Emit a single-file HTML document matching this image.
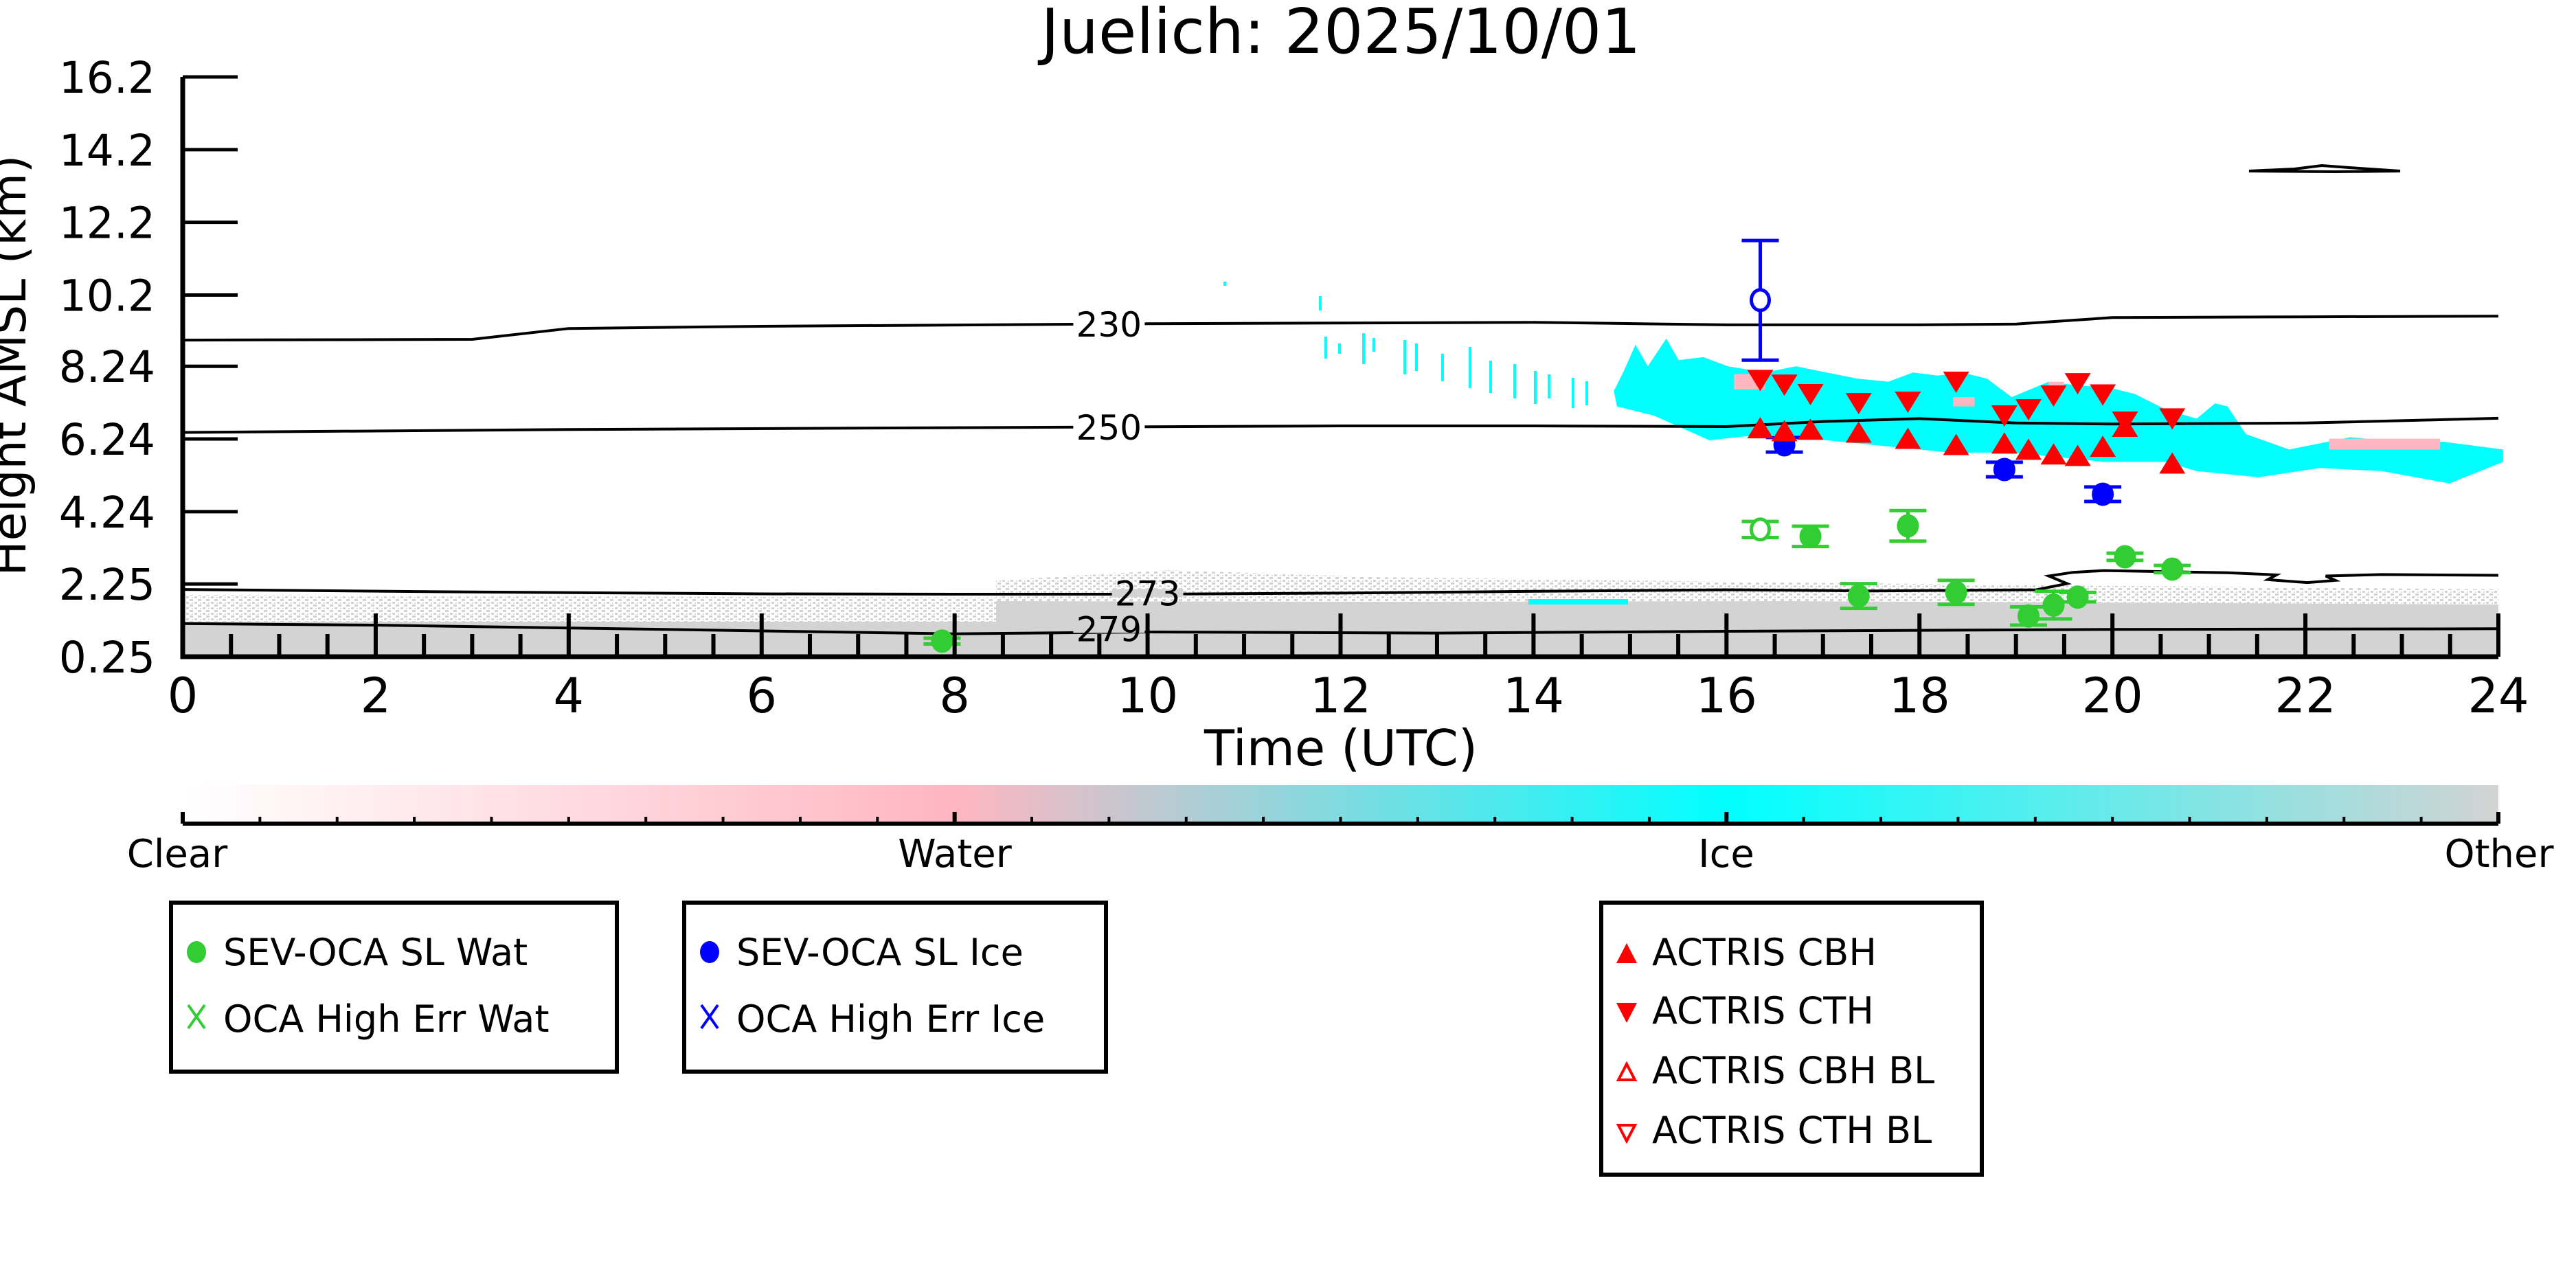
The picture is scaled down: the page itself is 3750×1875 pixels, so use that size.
<!DOCTYPE html>
<html><head><meta charset="utf-8"><style>
html,body{margin:0;padding:0;background:#fff;}
svg{display:block;font-family:"DejaVu Sans","Liberation Sans",sans-serif;}
</style></head><body>
<svg id="chart" width="3750" height="1875" viewBox="0 0 3750 1875" xmlns="http://www.w3.org/2000/svg">
<defs>
<pattern id="speck" width="12" height="8" patternUnits="userSpaceOnUse">
<rect x="0" y="0" width="5" height="3" fill="#d3d3d3"/><rect x="7" y="4" width="4" height="3" fill="#d3d3d3"/><rect x="3" y="5" width="2" height="2" fill="#dcdcdc"/>
</pattern>
<linearGradient id="cbar" x1="0" x2="1" y1="0" y2="0">
<stop offset="0" stop-color="#ffffff"/><stop offset="0.3333" stop-color="#ffb6c1"/><stop offset="0.6667" stop-color="#00ffff"/><stop offset="1" stop-color="#d3d3d3"/>
</linearGradient>
</defs>
<text x="1952" y="77" font-size="90" text-anchor="middle">Juelich: 2025/10/01</text>
<g id="plot"></g>
<g id="axes"></g>
<text x="1952" y="1114" font-size="72" text-anchor="middle">Time (UTC)</text>
<text transform="translate(37,532) rotate(-90)" font-size="68" text-anchor="middle">Height AMSL (km)</text>
<g>
<rect x="266" y="1143" width="3371" height="55" fill="url(#cbar)"/>
<g id="cbticks"></g>
<text x="258" y="1262" font-size="56" text-anchor="middle">Clear</text>
<text x="1390" y="1262" font-size="56" text-anchor="middle">Water</text>
<text x="2513" y="1262" font-size="56" text-anchor="middle">Ice</text>
<text x="3638" y="1262" font-size="56" text-anchor="middle">Other</text>
</g>
<g>
<rect x="249" y="1314" width="649" height="246" fill="#fff" stroke="#000" stroke-width="6"/>
<ellipse cx="286" cy="1386" rx="14" ry="16" fill="#32cd32"/>
<text x="325" y="1405" font-size="54">SEV-OCA SL Wat</text>
<path d="M274 1463 L298 1497 M298 1463 L274 1497" stroke="#32cd32" stroke-width="4"/>
<text x="325" y="1502" font-size="54">OCA High Err Wat</text>
</g>
<g>
<rect x="996" y="1314" width="614" height="246" fill="#fff" stroke="#000" stroke-width="6"/>
<ellipse cx="1033" cy="1386" rx="14" ry="16" fill="#0000ff"/>
<text x="1072" y="1405" font-size="54">SEV-OCA SL Ice</text>
<path d="M1021 1463 L1045 1497 M1045 1463 L1021 1497" stroke="#0000ff" stroke-width="4"/>
<text x="1072" y="1502" font-size="54">OCA High Err Ice</text>
</g>
<g>
<rect x="2331" y="1314" width="554" height="396" fill="#fff" stroke="#000" stroke-width="6"/>
<path d="M2353 1402 L2368 1373 L2383 1402 Z" fill="#ff0000"/>
<text x="2405" y="1405" font-size="54">ACTRIS CBH</text>
<path d="M2353 1460 L2383 1460 L2368 1489 Z" fill="#ff0000"/>
<text x="2405" y="1490" font-size="54">ACTRIS CTH</text>
<path d="M2356 1572 L2368 1549 L2380 1572 Z" fill="none" stroke="#ff0000" stroke-width="4"/>
<text x="2405" y="1577" font-size="54">ACTRIS CBH BL</text>
<path d="M2356 1638 L2380 1638 L2368 1661 Z" fill="none" stroke="#ff0000" stroke-width="4"/>
<text x="2405" y="1664" font-size="54">ACTRIS CTH BL</text>
</g>
</svg>
<script>
const NS="http://www.w3.org/2000/svg";
// ---- data ----
const yTickLabels=["0.25","2.25","4.24","6.24","8.24","10.2","12.2","14.2","16.2"];
const xTickLabels=["0","2","4","6","8","10","12","14","16","18","20","22","24"];
const watTimes=[7.87,16.87,17.88,17.37,18.38,19.13,19.39,19.64,20.13,20.62];
const watHeights=[0.68,3.56,3.85,1.92,2.02,1.37,1.67,1.89,3.00,2.66];
const watErr=[0.08,0.28,0.42,0.34,0.33,0.25,0.38,0.13,0.10,0.10];
const watOpenTimes=[16.35];
const watOpenHeights=[3.75];
const watOpenErr=[0.22];
const iceTimes=[16.60,18.88,19.90];
const iceHeights=[6.08,5.40,4.72];
const iceErr=[0.2,0.2,0.2];
const iceOpenTimes=[16.35];
const iceOpenHeights=[10.06];
const iceOpenErrLow=[1.65];
const iceOpenErrHigh=[1.64];
const actrisTimes=[16.35,16.60,16.87,17.37,17.88,18.38,18.88,19.13,19.39,19.64,19.90,20.13,20.62];
const cthHeights=[7.86,7.73,7.47,7.22,7.26,7.81,6.88,7.05,7.43,7.77,7.46,6.71,6.80];
const cbhHeights=[6.54,6.46,6.50,6.42,6.25,6.08,6.12,5.95,5.82,5.78,6.03,6.58,5.57];
const c230T=[0,3.0,4.0,6,10,14,16,18,19,20,22,24];
const c230H=[8.96,8.98,9.28,9.34,9.41,9.45,9.38,9.38,9.40,9.58,9.60,9.62];
const c250T=[0,4,8,12,14,16,17,18,19,20,22,24];
const c250H=[6.42,6.50,6.55,6.60,6.60,6.58,6.72,6.80,6.68,6.65,6.68,6.81];
const c273T=[0,3,6,8,10,12,14,16,17.5,19.21,19.53,19.34,19.59,19.91,21.19,21.70,21.61,22.02,22.31,22.21,22.79,24];
const c273H=[2.10,2.03,1.98,1.97,1.97,2.00,2.05,2.09,2.06,2.09,2.26,2.47,2.57,2.62,2.56,2.50,2.37,2.29,2.35,2.47,2.51,2.49];
const c279T=[0,2,5,8,10,13,16,20,24];
const c279H=[1.16,1.12,1.00,0.88,0.93,0.90,0.95,1.00,1.02];
const contourLabels=["230","250","273","279"];
const contourLabelT=[9.6,9.6,10.0,9.6];
const contourLabelH=[9.40,6.56,2.00,1.02];
// ---- scales ----
const X=t=>266+t*(3371/24);
const Y=h=>956-(h-0.25)*(844/15.95);
const plot=document.getElementById('plot');
const axes=document.getElementById('axes');
function mk(tag,attrs,parent){const e=document.createElementNS(NS,tag);for(const k in attrs)e.setAttribute(k,attrs[k]);parent.appendChild(e);return e;}

let g;
g=mk('path',{d:`M266 866 L1450 870 L1450 956 L266 956 Z`,fill:'url(#speck)'},plot);


g=mk('rect',{x:266,y:905,width:1184,height:51,fill:'#d3d3d3'},plot);


g=mk('path',{d:`M1450 845 L1700 830 L2000 840 L2600 848 L3000 852 L3637 858 L3637 956 L1450 956 Z`,fill:'url(#speck)'},plot);


g=mk('path',{d:`M1450 875 L2000 876 L2600 875 L3637 880 L3637 956 L1450 956 Z`,fill:'#d3d3d3'},plot);


g=mk('rect',{x:2225,y:872,width:145,height:8,fill:'#00ffff'},plot);



const cg=mk('g',{transform:'translate(2300,300) scale(0.8977,0.4486)'},plot);


mk('path',{d:'M55 600 L70 540 L90 450 L110 520 L140 430 L160 500 L200 490 L240 520 L300 540 L350 520 L400 540 L450 560 L500 570 L540 540 L580 550 L620 540 L660 560 L700 620 L760 570 L800 580 L860 590 L900 610 L950 660 L1000 690 L1030 640 L1050 650 L1080 740 L1150 790 L1200 770 L1250 750 L1300 760 L1400 765 L1497 790 L1497 830 L1410 900 L1300 860 L1200 850 L1100 880 L1000 860 L950 830 L850 830 L800 820 L700 800 L600 800 L500 780 L400 760 L300 740 L210 760 L120 680 L60 650 Z',fill:'#00ffff'},cg);
mk('rect',{x:1215,y:755,width:180,height:35,fill:'#ffb6c1'},cg);
mk('rect',{x:250,y:545,width:50,height:50,fill:'#ffb6c1'},cg);
mk('rect',{x:605,y:620,width:35,height:30,fill:'#ffb6c1'},cg);
mk('rect',{x:760,y:570,width:25,height:20,fill:'#ffb6c1'},cg);
const streaks=[[1922,431,452],[1930,490,522],[1950,500,515],[1985,485,530],[2000,492,512],[2045,495,545],[2062,500,540],[2100,515,555],[2140,505,565],[2170,525,572],[2205,530,580],[2235,540,588],[2255,545,580],[2290,550,594],[2310,555,590],[1783,410,416]];
streaks.forEach(s=>{const e=mk('line',{x1:s[0],x2:s[0],y1:s[1],y2:s[2],stroke:'#00ffff','stroke-width':4},plot);

});

function contour(T,H,name){const d=T.map((t,i)=>(i?'L':'M')+X(t).toFixed(1)+' '+Y(H[i]).toFixed(1)).join(' ');
const e=mk('path',{d:d,fill:'none',stroke:'#000','stroke-width':4},plot);

}
contour(c230T,c230H,'contour-230');
contour(c250T,c250H,'contour-250');
contour(c273T,c273H,'contour-273');
contour(c279T,c279H,'contour-279');
let e0=mk('path',{d:'M3274 249 L3340 246 L3380 241 L3420 244 L3494 249 L3400 250 Z',fill:'none',stroke:'#000','stroke-width':4},plot);


contourLabels.forEach((l,i)=>{const x=X(contourLabelT[i]),y=Y(contourLabelH[i]);
const t=mk('text',{x:x,y:y+18,'font-size':50,'text-anchor':'middle',fill:'#000'},plot);t.textContent=l;
const bg=mk('rect',{x:x-52,y:y-6,width:104,height:12,fill:i<2?'#fff':'#d3d3d3'},plot);plot.insertBefore(bg,t);

});

function errbar(x,y1,y2,col,name){const e=mk('path',{d:`M${x} ${y1} L${x} ${y2} M${x-27} ${y1} L${x+27} ${y1} M${x-27} ${y2} L${x+27} ${y2}`,stroke:col,'stroke-width':5,fill:'none'},plot);

}
watTimes.forEach((t,i)=>{const x=X(t),y=Y(watHeights[i]);errbar(x,Y(watHeights[i]+watErr[i]),Y(watHeights[i]-watErr[i]),'#32cd32','sev-wat-errorbar');
const c=mk('ellipse',{cx:x,cy:y,rx:16,ry:17,fill:'#32cd32'},plot);

});
watOpenTimes.forEach((t,i)=>{const x=X(t),y=Y(watOpenHeights[i]);errbar(x,Y(watOpenHeights[i]+watOpenErr[i]),Y(watOpenHeights[i]-watOpenErr[i]),'#32cd32','sev-wat-open-errorbar');
const c=mk('ellipse',{cx:x,cy:y,rx:13,ry:15,fill:'#fff',stroke:'#32cd32','stroke-width':5},plot);

});
iceTimes.forEach((t,i)=>{const x=X(t),y=Y(iceHeights[i]);errbar(x,Y(iceHeights[i]+iceErr[i]),Y(iceHeights[i]-iceErr[i]),'#0000ff','sev-ice-errorbar');
const c=mk('ellipse',{cx:x,cy:y,rx:16,ry:17,fill:'#0000ff'},plot);

});
iceOpenTimes.forEach((t,i)=>{const x=X(t),y=Y(iceOpenHeights[i]);errbar(x,Y(iceOpenHeights[i]+iceOpenErrHigh[i]),Y(iceOpenHeights[i]-iceOpenErrLow[i]),'#0000ff','sev-ice-open-errorbar');
const c=mk('ellipse',{cx:x,cy:y,rx:13,ry:15,fill:'#fff',stroke:'#0000ff','stroke-width':5},plot);

});
actrisTimes.forEach((t,i)=>{const x=X(t);let y=Y(cthHeights[i]);
const d=mk('path',{d:`M${x-19} ${y-15} L${x+19} ${y-15} L${x} ${y+16} Z`,fill:'#ff0000'},plot);


y=Y(cbhHeights[i]);
const u=mk('path',{d:`M${x-19} ${y+15} L${x+19} ${y+15} L${x} ${y-16} Z`,fill:'#ff0000'},plot);

});

let a=mk('path',{d:'M266 112 L266 956 L3637 956',fill:'none',stroke:'#000','stroke-width':7},axes);


yTickLabels.forEach(l=>{const y=Y(parseFloat(l));
const tk=mk('line',{x1:266,x2:346,y1:y,y2:y,stroke:'#000','stroke-width':5},axes);


const t=mk('text',{x:226,y:y+23,'font-size':63,'text-anchor':'end'},axes);t.textContent=l;

});
for(let k=1;k<=48;k++){const x=X(k*0.5);const major=k%4===0;
const tk=mk('line',{x1:x,x2:x,y1:956,y2:major?893:923,stroke:'#000','stroke-width':6},axes);

}
xTickLabels.forEach(l=>{const t=mk('text',{x:X(parseFloat(l)),y:1037,'font-size':70,'text-anchor':'middle'},axes);t.textContent=l;

});
const cbt=document.getElementById('cbticks');
let cl=mk('line',{x1:266,x2:3637,y1:1199,y2:1199,stroke:'#000','stroke-width':6},cbt);


for(let k=0;k<=30;k++){const x=266+k*3371/30;const major=k%10===0;
const tk=mk('line',{x1:x,x2:x,y1:1199,y2:major?1182:1189,stroke:'#000','stroke-width':major?6:4},cbt);

}
</script>
</body></html>
